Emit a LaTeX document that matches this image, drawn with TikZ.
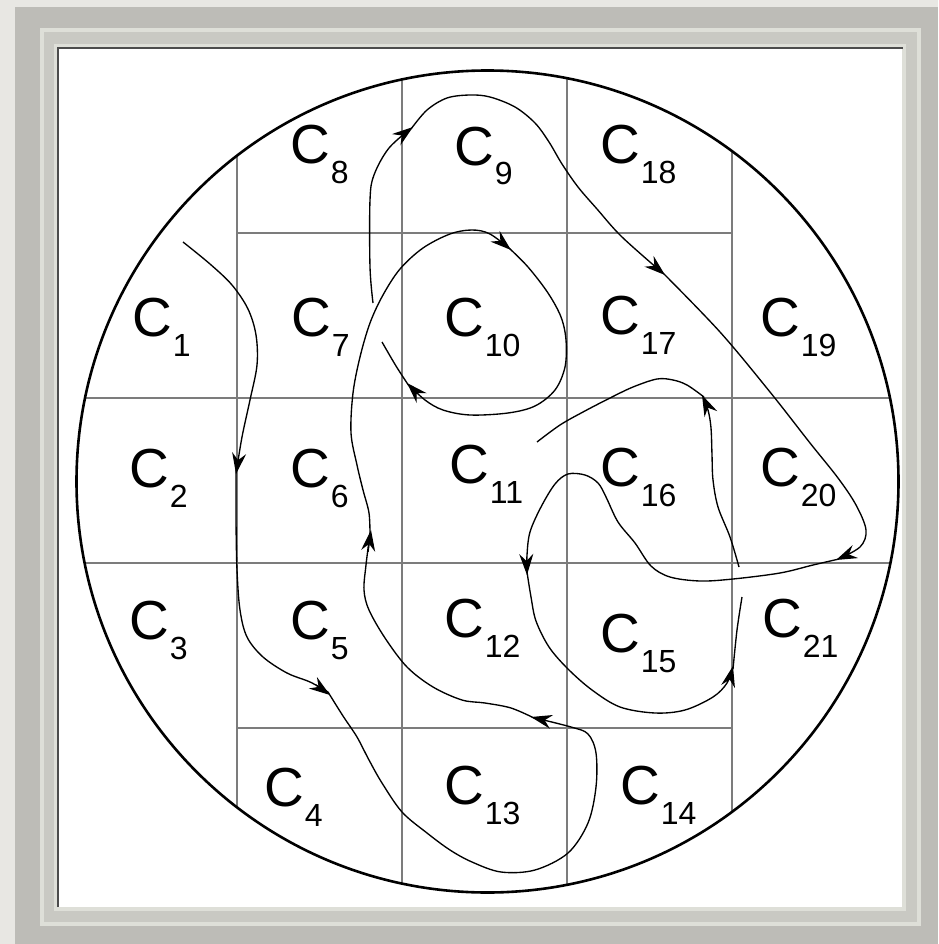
\documentclass[tikz,border=0pt]{standalone}
\usepackage{fontspec}
\newfontfamily\labfont{Liberation Sans}
\usetikzlibrary{arrows.meta}
\definecolor{bgout}{HTML}{E8E7E3}
\definecolor{band}{HTML}{BDBCB7}
\definecolor{matlight}{HTML}{DEDFD8}
\definecolor{matmid}{HTML}{C9C9C3}
\definecolor{gridgray}{HTML}{7C7C7C}
\tikzset{
  lab/.style={anchor=base west, inner sep=0pt, font=\labfont\fontsize{55}{55}\selectfont},
  gridline/.style={draw=gridgray, line width=1.9pt},
  traj/.style={line width=1.35pt, black},
  tarrow/.style={traj, -{Stealth[length=21pt, width=14pt, inset=7pt]}},
}
\newcommand\clab[4]{\node[lab] (#1) at (#2-3,#3-1) {C\raisebox{-20pt}{\kern1pt\fontsize{32}{32}\selectfont #4}};}
\begin{document}
\begin{tikzpicture}[x=1pt, y=-1pt]
\useasboundingbox (0,0) rectangle (938,944);
% frame
\fill[bgout] (0,0) rectangle (938,944);
\fill[band] (15,7) rectangle (938,944);
\fill[matlight] (40,28) rectangle (921,926);
\fill[matmid] (44,32) rectangle (917,922);
\fill[matlight] (54,44) rectangle (906,911);
\fill[white] (58,48) rectangle (902,907);
\draw[line width=2.5pt, black!70] (58,907) -- (58,48) -- (903,48);
% grid
\coordinate (O) at (487.5,481.5);
\begin{scope}
\clip (O) circle[radius=411pt];
\foreach \gx in {237,402,567,732} \draw[gridline] (\gx,50) -- (\gx,910);
\foreach \gy in {398,563} \draw[gridline] (60,\gy) -- (910,\gy);
\draw[gridline] (237,233) -- (732,233);
\draw[gridline] (237,728) -- (732,728);
\end{scope}
\draw[line width=2.6pt] (O) circle[radius=411pt];
% labels
\clab{c1}{135}{337}{1}
\clab{c2}{132}{488}{2}
\clab{c3}{132}{640}{3}
\clab{c4}{267}{807}{4}
\clab{c5}{293}{640}{5}
\clab{c6}{293}{488}{6}
\clab{c7}{294}{337}{7}
\clab{c8}{293}{165}{8}
\clab{c9}{457}{166}{9}
\clab{c10}{447}{337}{10}
\clab{c11}{452}{484}{11}
\clab{c12}{447}{638}{12}
\clab{c13}{447}{805}{13}
\clab{c14}{623}{805}{14}
\clab{c15}{603}{653}{15}
\clab{c16}{603}{487}{16}
\clab{c17}{603}{335}{17}
\clab{c18}{603}{165}{18}
\clab{c19}{763}{337}{19}
\clab{c20}{763}{487}{20}
\clab{c21}{765}{638}{21}
% trajectory
\draw[tarrow] plot[smooth, tension=0.55] coordinates {(183,242) (210,264) (232,285) (248,309) (256,335) (257,365) (250,400) (242,437) (236,474)};
\draw[traj] plot[smooth, tension=0.55] coordinates {(236,470) (236,520) (237,570) (240,610) (247,637) (263,657) (287,673) (310,682) (328,692)};
\draw[tarrow] (316,685) -- (330,695);
\draw[tarrow] plot[smooth, tension=0.55] coordinates {(328,692) (343,716) (357,737) (369,760) (382,783) (402,812) (427,833) (450,850) (472,862) (501,872) (535,870) (568,853) (588,823) (596,787) (596,753) (588,734) (571,727) (531,717)};
\draw[traj] plot[smooth, tension=0.55] coordinates {(534,718) (511,708) (485,703) (462,700) (433,687) (407,667) (385,638) (369,610) (364,590) (366,565) (370,533)};
\draw[tarrow] (368,552) -- (371,530);
\draw[tarrow] plot[smooth, tension=0.55] coordinates {(370,536) (369,513) (363,490) (357,465) (351,433) (353,393) (360,357) (370,323) (383,295) (400,269) (423,248) (450,234) (472,230) (490,234) (511,250)};
\draw[tarrow] plot[smooth, tension=0.55] coordinates {(509,248) (528,267) (548,293) (561,317) (566,340) (565,367) (555,390) (535,406) (508,413) (470,415) (443,410) (425,400) (407,383)};
\draw[traj] plot[smooth, tension=0.55] coordinates {(409,386) (396,366) (382,342)};
\draw[tarrow] plot[smooth, tension=0.55] coordinates {(373,303) (370,267) (370,200) (374,175) (389,148) (413,127)};
\draw[tarrow] plot[smooth, tension=0.55] coordinates {(411,129) (427,110) (447,98) (470,95) (490,97) (515,107) (535,123) (549,142) (562,164) (578,187) (597,209) (622,237) (665,275)};
\draw[tarrow] plot[smooth, tension=0.55] coordinates {(663,273) (720,332) (770,392) (810,443) (838,478) (856,505) (866,530) (860,547) (836,560)};
\draw[tarrow] plot[smooth, tension=0.55] coordinates {(839,559) (813,565) (780,573) (733,579) (700,581) (670,577) (651,566) (635,543) (618,522) (606,497) (598,483) (585,475) (568,474) (555,484) (541,507) (530,532) (527,555) (527,575)};
\draw[tarrow] plot[smooth, tension=0.55] coordinates {(527,572) (531,597) (536,621) (549,647) (568,669) (592,690) (620,707) (655,713) (685,710) (713,697) (727,683) (733,666)};
\draw[traj] plot[smooth, tension=0.55] coordinates {(733,669) (737,630) (742,597)};
\draw[tarrow] plot[smooth, tension=0.55] coordinates {(739,567) (730,537) (718,507) (713,480) (712,455) (711,428) (708,410) (702,395)};
\draw[traj] plot[smooth, tension=0.55] coordinates {(704,397) (687,385) (673,380) (657,379) (633,387) (610,398) (583,412) (560,425) (537,442)};
\end{tikzpicture}
\end{document}
